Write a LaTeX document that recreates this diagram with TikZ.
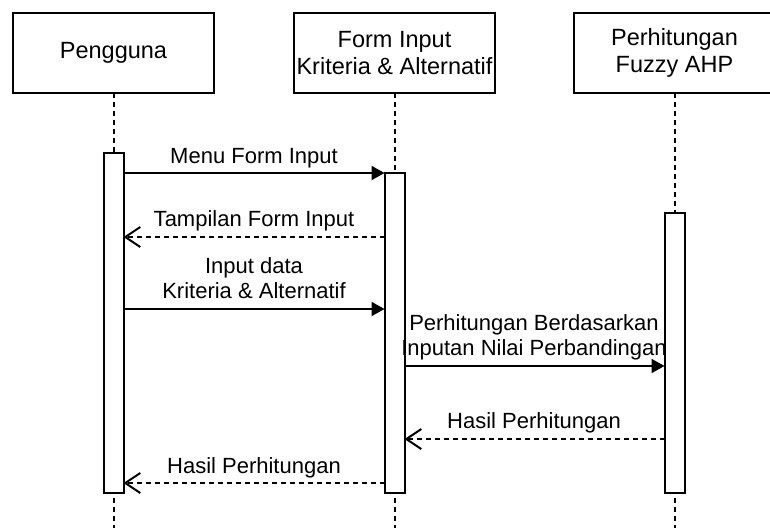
\documentclass[tikz,border=0pt]{standalone}
\usepackage{fontspec}
\setmainfont{Liberation Sans}
\usetikzlibrary{arrows.meta}
\begin{document}
\begin{tikzpicture}[x=1pt,y=-1pt,
  every node/.style={inner sep=0pt, outer sep=0pt},
  headbox/.style={draw, line width=2pt, minimum width=201pt, minimum height=80pt,
    align=center, font=\fontsize{23.5}{27}\selectfont},
  actbox/.style={draw, fill=white, line width=2pt, minimum width=20pt},
  life/.style={line width=2pt, dash pattern=on 5pt off 4pt},
  msg/.style={line width=2pt, -{Triangle[length=13pt,width=14pt]}},
  reply/.style={line width=2pt, dash pattern=on 5pt off 4pt,
    -{Straight Barb[length=15pt,width=20pt]}},
  lbl/.style={font=\fontsize{22}{25.5}\selectfont, align=center, anchor=base}
]
\useasboundingbox (0,0) rectangle (770,528);

% participants
\node[headbox] (p1) at (113.5,53) {Pengguna};
\node[headbox] (p2) at (394.5,53) {Form Input\\Kriteria \& Alternatif};
\node[headbox] (p3) at (674.5,53) {Perhitungan\\Fuzzy AHP};

% lifelines
\coordinate (e1) at (113.5,528);
\coordinate (e2) at (394.5,528);
\coordinate (e3) at (674.5,528);
\draw[life] (p1.south) -- (e1);
\draw[life] (p2.south) -- (e2);
\draw[life] (p3.south) -- (e3);

% activation bars
\node[actbox, minimum height=340pt] (a1) at (113.5,323) {};
\node[actbox, minimum height=320pt] (a2) at (394.5,333) {};
\node[actbox, minimum height=280pt] (a3) at (674.5,353) {};

% message levels
\coordinate (m1) at (0,173);
\coordinate (m2) at (0,237);
\coordinate (m3) at (0,309);
\coordinate (m4) at (0,366);
\coordinate (m5) at (0,439);
\coordinate (m6) at (0,483);

% messages
\draw[msg]   (a1.east |- m1) -- (a2.west |- m1);
\draw[reply] (a2.west |- m2) -- (a1.east |- m2);
\draw[msg]   (a1.east |- m3) -- (a2.west |- m3);
\draw[msg]   (a2.east |- m4) -- (a3.west |- m4);
\draw[reply] (a3.west |- m5) -- (a2.east |- m5);
\draw[reply] (a2.west |- m6) -- (a1.east |- m6);

% message labels
\node[lbl] (t1) at (254,163) {Menu Form Input};
\node[lbl] (t2) at (254,226) {Tampilan Form Input};
\node[lbl] (t3) at (254,273) {Input data};
\node[lbl] (t3b) at (254,298) {Kriteria \& Alternatif};
\node[lbl] (t4) at (534,330) {Perhitungan Berdasarkan};
\node[lbl] (t4b) at (534,355) {Inputan Nilai Perbandingan};
\node[lbl] (t5) at (534,428) {Hasil Perhitungan};
\node[lbl] (t6) at (254,473) {Hasil Perhitungan};
\end{tikzpicture}
\end{document}
